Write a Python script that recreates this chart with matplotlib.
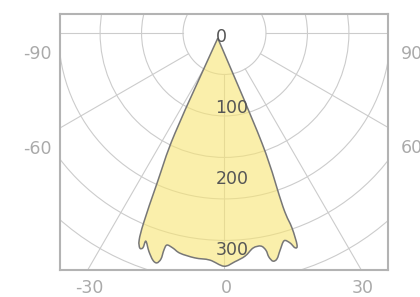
import numpy as np
import matplotlib
matplotlib.use("Agg")
import matplotlib.pyplot as plt
from matplotlib.path import Path
from matplotlib.patches import PathPatch, Circle

# light distribution curve (angle in degrees from nadir, intensity)
curve_angles = [-52, -26.3, -24.2, -23.1, -22.4, -21.5, -20.8, -20.7, -19.1, -17.5,
                -16.4, -15.7, -15.6, -15.2, -13.5, -11.4, -7.5, -3.7, -0.1, 2.6,
                5.3, 7.6, 9.7, 10.8, 11.2, 12.0, 13.1, 14.4, 16.0, 17.3,
                18.2, 18.9, 19.1, 18.6, 18.8]
curve_values = [12, 157, 231, 289, 315, 325, 323, 313, 325, 335,
                337, 330, 317, 309, 311, 316, 319, 320, 328, 322,
                315, 305, 304, 311, 321, 328, 326, 315, 304, 309,
                318, 315, 290, 258, 164]

angle_ticks = [-90, -60, -30, 0, 30, 60, 90]
radius_labels = [0, 100, 200, 300]
r_max = 350
n_rings = 6

grid_col = "#cccccc"
box_col = "#b3b3b3"


def to_xy(ang, r):
    a = np.radians(ang)
    return np.sin(a) * r, -np.cos(a) * r


fig = plt.figure(figsize=(4.2, 2.97), dpi=100)
ax = fig.add_axes([60 / 420, 27 / 297, 328 / 420, 256 / 297])
ax.set_xlim(-231.4, 230.0)
ax.set_ylim(-333.3, 26.7)
ax.set_xticks([])
ax.set_yticks([])
for s in ax.spines.values():
    s.set_color(box_col)
    s.set_linewidth(1.5)
    s.set_zorder(10)

# rings and spokes
step = r_max / n_rings
for k in range(1, n_rings + 1):
    ax.add_patch(Circle((0, 0), k * step, fill=False, ec=grid_col, lw=0.8, zorder=1))
for a in angle_ticks:
    x0, y0 = to_xy(a, step)
    x1, y1 = to_xy(a, 700)
    ax.plot([x0, x1], [y0, y1], color=grid_col, lw=0.8, zorder=1)

# smooth closed curve (catmull-rom -> bezier), apex kept sharp
xs, ys = to_xy(np.array(curve_angles), np.array(curve_values))
pts = np.column_stack([xs, ys])
n = len(pts)
verts = [pts[0]]
codes = [Path.MOVETO]
for i in range(n):
    p0, p1, p2, p3 = pts[i - 1], pts[i], pts[(i + 1) % n], pts[(i + 2) % n]
    c1 = p1 + (p2 - p0) / 6
    c2 = p2 - (p3 - p1) / 6
    if i == 0:
        c1 = p1
    if (i + 1) % n == 0:
        c2 = p2
    verts += [c1, c2, p2]
    codes += [Path.CURVE4] * 3
path = Path(verts, codes)
ax.add_patch(PathPatch(path, fc="#f8e573", alpha=0.6, ec="none", zorder=2))
ax.add_patch(PathPatch(path, fc="none", ec="#777777", lw=1.1, zorder=3))

# radius labels
for v in radius_labels:
    ax.text(-12.7, -(v + 5), str(v), ha="left", va="center",
            fontsize=12.5, color="#555555", zorder=5)

# angle labels outside the box
x_left, x_right = ax.get_xlim()
y_bot = ax.get_ylim()[0]
for a in angle_ticks:
    if abs(a) >= 60:
        xe = x_left if a < 0 else x_right
        ye = -abs(xe) / np.tan(np.radians(abs(a))) if abs(a) < 90 else 0
        ax.text(np.sign(a) * 263, ye - 29, str(a), ha="center", va="center",
                fontsize=12.5, color="#aaaaaa", clip_on=False)
    else:
        xe = -y_bot * np.tan(np.radians(a))
        ax.text(xe + 2, y_bot - 26, str(a), ha="center", va="center",
                fontsize=12.5, color="#aaaaaa", clip_on=False)

fig.savefig("out.png", dpi=100)
